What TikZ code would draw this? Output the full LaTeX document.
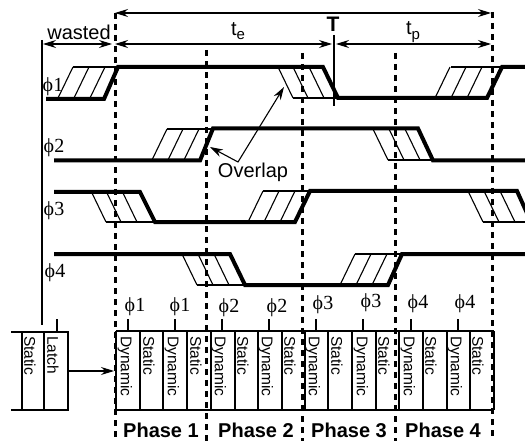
\documentclass[tikz,border=0pt]{standalone}
\usepackage{fontspec}
\setmainfont{Liberation Sans}
\newfontfamily\serifphi{Liberation Serif}
\usetikzlibrary{arrows.meta}
\newcommand{\phiname}[1]{{\serifphi\fontsize{20}{20}\selectfont ϕ#1}}
\newcommand{\subtext}[2]{#1\raisebox{-4.5pt}{\fontsize{15}{15}\selectfont #2}}
\tikzset{
  wave/.style={line width=4pt,line join=miter},
  hatch/.style={line width=1.1pt},
  dashv/.style={line width=3pt,dash pattern=on 6pt off 5pt},
  thin line/.style={line width=1.2pt},
  cellline/.style={line width=1.3pt},
  dim/.style={line width=1.1pt,{Stealth[length=13pt,width=8pt]}-{Stealth[length=13pt,width=8pt]}},
  onetip/.style={line width=1.1pt,-{Stealth[length=13pt,width=8pt]}},
  lab/.style={font=\fontsize{20}{20}\selectfont,inner sep=0pt},
  phaselab/.style={font=\bfseries\fontsize{20}{20}\selectfont,inner sep=0pt},
  phil/.style={inner sep=0pt},
  celltext/.style={font=\fontsize{15.5}{15.5}\selectfont,rotate=-90,anchor=west,inner sep=0pt},
}
\begin{document}
\begin{tikzpicture}[x=1pt,y=-1pt]
\fill[white] (0,0) rectangle (525,441);
\useasboundingbox (0,0) rectangle (525,441);
\begin{scope}
\clip (0,0) rectangle (525,441);
% vertical dashed lines
\foreach \x/\yy in {115/13,206/50,302/53,395/53,492/12}
  \draw[dashv] (\x,\yy) -- (\x,441);
% hatches: rising
\foreach \b/\y in {58/98,74/98,90/98,435/98,451/98,467/98,
  152/160,168/160,184/160,248/222,264/222,280/222,340/285,356/285,372/285}
  \draw[hatch] (\b,\y) -- (\b+15,\y-31);
% hatches: falling
\foreach \t/\y in {278/67,293/67,309/67,373/129,389/129,405/129,91/191,106/191,122/191,
  468/191,484/191,500/191,182/254,198/254,214/254}
  \draw[hatch] (\t,\y) -- (\t+15,\y+31);
% thin closing lines
\draw[hatch] (73,67) -- (118,67);
\draw[hatch] (451,67) -- (502,67);
\draw[hatch] (293,98) -- (338,98);
\draw[hatch] (167,129) -- (213,129);
\draw[hatch] (388,160) -- (433,160);
\draw[hatch] (106,222) -- (155,222);
\draw[hatch] (263,191) -- (310,191);
\draw[hatch] (483,222) -- (525,222);
\draw[hatch] (197,285) -- (245,285);
\draw[hatch] (355,254) -- (402,254);
% waveforms
\draw[wave] (46,99) -- (104,99) -- (118,67) -- (323,67) -- (338,98) -- (487,98) -- (502,67) -- (527,67);
\draw[wave] (54,160.5) -- (200,160.5) -- (213,128.5) -- (418,128.5) -- (433,160.5) -- (527,160.5);
\draw[wave] (54,192) -- (140,192) -- (155,222) -- (295,222) -- (310,191) -- (517,191) -- (531,222);
\draw[wave] (54,254) -- (230,254) -- (245,285) -- (388,285) -- (402,254) -- (527,254);
\end{scope}
% left rail and T marker
\coordinate (railtop) at (42,40);
\coordinate (railbot) at (42,325);
\draw[thin line] (railtop) -- (railbot);
\coordinate (ttop) at (334,35);
\coordinate (tbot) at (334,106);
\draw[thin line] (ttop) -- (tbot);
% dimension arrows
\coordinate (a1) at (115,13); \coordinate (a2) at (491,13);
\draw[dim] (a1) -- (a2);
\coordinate (b1) at (115,44); \coordinate (b2) at (332,44);
\draw[dim] (b1) -- (b2);
\coordinate (c1) at (336,44); \coordinate (c2) at (491,44);
\draw[dim] (c1) -- (c2);
\coordinate (d1) at (43,44); \coordinate (d2) at (112,44);
\draw[dim] (d1) -- (d2);
% labels
\node[lab] (wasted) at (79,32) {wasted};
\node[lab] (te) at (238,31) {\subtext{t}{e}};
\node[lab] (tp) at (413,32) {\subtext{t}{p}};
\node[lab,font=\bfseries\fontsize{21}{21}\selectfont] (T) at (333,24) {T};
\node[lab] (overlap) at (253,172) {Overlap};
% overlap arrows
\coordinate (elbow) at (238,162);
\coordinate (ov1) at (210,147);
\coordinate (ov2) at (284,87);
\draw[line width=1.1pt,{Stealth[length=13pt,width=8pt]}-{Stealth[length=13pt,width=8pt]}] (ov1) -- (elbow) -- (ov2);
% phase names on the wave rows
\node[phil] (p1) at (53,87) {\phiname{1}};
\node[phil] (p2) at (54,148) {\phiname{2}};
\node[phil] (p3) at (54,211) {\phiname{3}};
\node[phil] (p4) at (55,273) {\phiname{4}};
% left block
\coordinate (lt1) at (11,332); \coordinate (lt2) at (69,332);
\coordinate (lb1) at (11,410); \coordinate (lb2) at (69,410);
\draw[cellline] (lt1) -- (lt2);
\draw[line width=1.7pt] (lb1) -- (lb2);
\foreach \x in {22,44,68} \draw[cellline] (\x,332) -- (\x,410);
\draw[cellline] (57,319) -- (57,332);
\node[celltext] (ls) at (30,336) {Static};
\node[celltext] (ll) at (53,336) {Latch};
\coordinate (lo) at (68,371); \coordinate (li) at (114,371);
\draw[onetip] (lo) -- (li);
% stage columns
\draw[cellline] (116,331) -- (494,331);
\draw[line width=1.7pt] (116,410) -- (494,410);
\foreach \x in {116,140,163,187,211,235,258,282,305,328,352,376,399,423,447,470,494}
  \draw[cellline] (\x,331) -- (\x,410);
\foreach \x [count=\i] in {125,172,219,266,313,361,408,455}
  \node[celltext] (dyn\i) at (\x,336) {Dynamic};
\foreach \x [count=\i] in {149,196,243,290,337,384,431,478}
  \node[celltext] (sta\i) at (\x,336) {Static};
\foreach \x in {128,175,222,269,316,363,411,458}
  \draw[cellline] (\x,319) -- (\x,331);
\node[phil] (s1) at (135,307) {\phiname{1}};
\node[phil] (s2) at (180,307) {\phiname{1}};
\node[phil] (s3) at (229,308) {\phiname{2}};
\node[phil] (s4) at (277,308) {\phiname{2}};
\node[phil] (s5) at (323,305) {\phiname{3}};
\node[phil] (s6) at (371,303) {\phiname{3}};
\node[phil] (s7) at (418,304) {\phiname{4}};
\node[phil] (s8) at (465,304) {\phiname{4}};
% phase captions
\node[phaselab] (ph1) at (161,430) {Phase 1};
\node[phaselab] (ph2) at (256,430) {Phase 2};
\node[phaselab] (ph3) at (349,430) {Phase 3};
\node[phaselab] (ph4) at (443,430) {Phase 4};
\end{tikzpicture}
\end{document}
